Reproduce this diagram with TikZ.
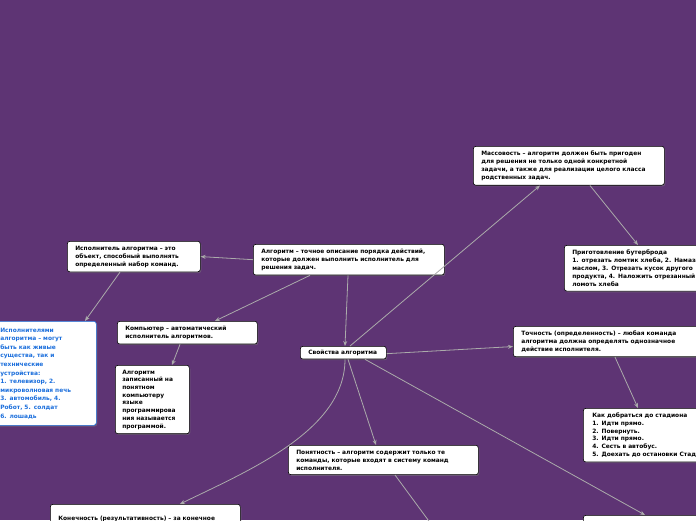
\documentclass[tikz,border=0pt]{standalone}
\usepackage{fontspec}
\setmainfont{DejaVu Sans}
\usetikzlibrary{arrows.meta,shadows}
\definecolor{bgpurple}{HTML}{5E3474}
\definecolor{linkgray}{HTML}{ABABAB}
\definecolor{noteblue}{HTML}{1C6FDC}
\tikzset{
  topic/.style={draw=black, line width=0.6pt, fill=white, rounded corners=2.5pt,
    anchor=north west, align=left, inner xsep=8pt, inner ysep=4.5pt,
    font=\fontsize{5.9}{8}\selectfont\bfseries,
    drop shadow={opacity=0.45, shadow xshift=1pt, shadow yshift=-1.2pt}},
  note/.style={topic, draw=noteblue, text=noteblue, font=\fontsize{5.9}{8.6}\selectfont\bfseries},
  link/.style={draw=linkgray, line width=0.8pt, -{Stealth[length=5pt,width=4pt]}}
}
\begin{document}
\begin{tikzpicture}[x=1pt,y=-1pt]
\fill[bgpurple] (0,0) rectangle (696,520);
\useasboundingbox (0,0) rectangle (696,520);
% nodes
\node[topic, text width=175pt] (mass) at (473,146) {Массовость – алгоритм должен быть пригоден\\для решения не только одной конкретной\\задачи, а также для реализации целого класса\\родственных задач.};
\node[topic, text width=160pt] (butter) at (564,245) {Приготовление бутерброда\\1. отрезать ломтик хлеба, 2. Намазать\\маслом, 3. Отрезать кусок другого\\продукта, 4. Наложить отрезанный\\ломоть хлеба};
\node[topic, text width=117pt] (isp) at (67,241) {Исполнитель алгоритма – это\\объект, способный выполнять\\определенный набор команд.};
\node[topic, text width=175pt] (alg) at (253,244) {Алгоритм – точное описание порядка действий,\\которые должен выполнить исполнитель для\\решения задач.};
\node[note, text width=88pt, inner xsep=8pt, minimum height=104pt] (ispyami) at (-8,321) {Исполнителями\\алгоритма – могут\\быть как живые\\существа, так и\\технические\\устройства:\\1. телевизор, 2.\\микроволновая печь\\3. автомобиль, 4.\\Робот, 5. солдат\\6. лошадь};
\node[topic, text width=124pt] (komp) at (117,321) {Компьютер – автоматический\\исполнитель алгоритмов.};
\node[topic, text width=60pt, inner xsep=7pt, font=\fontsize{5.9}{7.7}\selectfont\bfseries] (algzap) at (115,365) {Алгоритм\\записанный на\\понятном\\компьютеру\\языке\\программирова\\ния называется\\программой.};
\node[topic, text width=70pt, inner ysep=3.5pt] (svoy) at (300,346) {Свойства алгоритма};
\node[topic, text width=180pt] (toch) at (513,326) {Точность (определенность) – любая команда\\алгоритма должна определять однозначное\\действие исполнителя.};
\node[topic, text width=130pt, inner xsep=9pt, font=\fontsize{5.9}{7.8}\selectfont\bfseries] (kak) at (583,408) {Как добраться до стадиона\\1. Идти прямо.\\2. Повернуть.\\3. Идти прямо.\\4. Сесть в автобус.\\5. Доехать до остановки Стадион};
\node[topic, text width=174pt] (pon) at (288,445) {Понятность – алгоритм содержит только те\\команды, которые входят в систему команд\\исполнителя.};
\node[topic, text width=174pt, minimum height=30pt] (konech) at (50,504) {Конечность (результативность) – за конечное};
\node[topic, minimum width=130pt, minimum height=30pt] (diskr) at (583,515) {};
\coordinate (ponend) at (434,528);
% connectors
\draw[link] (alg.west) -- (isp.east);
\draw[link] ([xshift=53pt]isp.south west) -- ([xshift=93pt]ispyami.north west);
\draw[link] ([xshift=57pt]alg.south west) -- ([xshift=98pt]komp.north west);
\draw[link] ([xshift=63pt]komp.south west) -- ([xshift=57pt]algzap.north west);
\draw[link] ([xshift=95pt]alg.south west) -- ([xshift=45pt]svoy.north west);
\draw[link] ([xshift=50pt]svoy.north west) -- ([xshift=67pt]mass.south west);
\draw[link] ([xshift=117pt]mass.south west) -- ([xshift=74pt]butter.north west);
\draw[link] ([yshift=-1pt]svoy.east) -- ([yshift=-5pt]toch.west);
\draw[link] ([xshift=102pt]toch.south west) -- ([xshift=55pt]kak.north west);
\draw[link] ([xshift=48pt]svoy.south west) -- ([xshift=88pt]pon.north west);
\draw[link] ([xshift=65pt]svoy.south west) -- ([xshift=62pt]diskr.north west);
\draw[link] ([xshift=45pt]svoy.south west) .. controls (345,430) and (250,470) .. ([xshift=130pt]konech.north west);
\draw[link] ([xshift=107pt]pon.south west) -- (ponend);
\end{tikzpicture}
\end{document}
